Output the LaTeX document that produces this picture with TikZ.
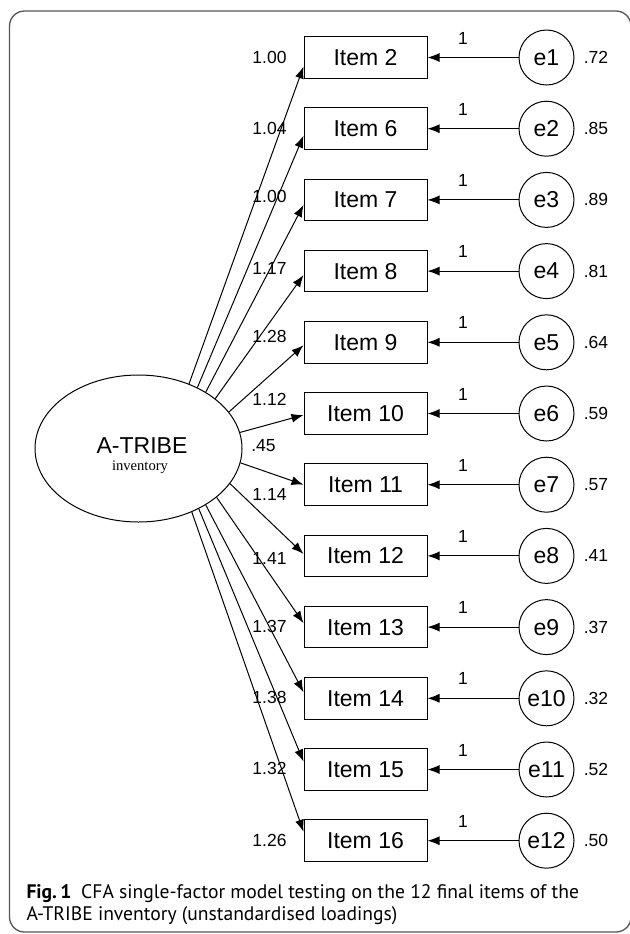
\documentclass[tikz,border=0pt]{standalone}
\usepackage{fontspec}
\setmainfont{Liberation Sans}
\newfontfamily\timesfont{Liberation Serif}
\newfontfamily\capfont{PT Sans}
\usetikzlibrary{arrows.meta, shapes.geometric, calc, math}
\definecolor{framegray}{RGB}{85,85,85}

\tikzset{
  itembox/.style={draw, minimum width=61.5pt, minimum height=20.75pt, inner sep=0pt, font=\fontsize{11.5}{13}\selectfont},
  errcirc/.style={draw, circle, minimum size=27.5pt, inner sep=0pt, font=\fontsize{11.5}{13}\selectfont},
  lbl/.style={inner sep=0pt, font=\fontsize{8.75}{10}\selectfont},
  captxt/.style={inner sep=0pt, anchor=base west, font=\capfont\fontsize{9.8}{11}\selectfont}
}

\begin{document}
\begin{tikzpicture}[x=0.5pt, y=-0.5pt, line width=0.5pt, >={Latex[length=6pt,width=4.5pt]}]
\tikzmath{
\dy=71.2;
\yo=57.5;
}
\useasboundingbox (0,0) rectangle (630,934);
\draw[line width=0.65pt, color=framegray, rounded corners=7.5pt] (9.5,11) rectangle (631,932);

% latent factor
\node[ellipse, draw, minimum width=103.5pt, minimum height=73.5pt, inner sep=0pt] (factor) at (138.5,448.5) {};
\node[inner sep=0pt, font=\fontsize{11.5}{13}\selectfont] (fname) at (142,445.5) {A-TRIBE};
\node[inner sep=0pt, anchor=base, font=\timesfont\fontsize{7.3}{8}\selectfont] (fsub) at (140,470) {inventory};
\node[lbl] (fvar) at (263.5,446) {.45};

% items, errors and loadings
\foreach \k/\item/\load/\ly/\tip/\ang/\var in {
  0/2/1.00/0/9/52/.72, 1/6/1.04/0/7/46/.85, 2/7/1.00/-3/5/40/.89,
  3/8/1.17/-3/4/33/.81, 4/9/1.28/-6/3/22/.64, 5/10/1.12/-14/1.5/9/.59,
  6/11/1.14/10/0/-8/.57, 7/12/1.41/3/-2/-21/.41, 8/13/1.37/-1/-4/-32/.37,
  9/14/1.38/-1/-6/-40/.32, 10/15/1.32/-1/-8/-45/.52, 11/16/1.26/0/-9/-50/.50}
{
  \pgfmathtruncatemacro{\en}{\k+1}
  \node[itembox] (item\k) at (365.5,\yo+\k*\dy) {Item \item};
  \node[errcirc] (e\k) at (546.5,\yo+\k*\dy) {e\en};
  \node[lbl] (one\k) at (463,\yo+\k*\dy-19.5) {1};
  \node[lbl] (v\k) at (596,\yo+\k*\dy) {\var};
  \node[lbl, anchor=east] (l\k) at (287,\yo+\k*\dy+\ly) {\load};
  \draw[->] (e\k.west) -- (item\k.east);
  \draw[->] (factor.\ang) -- ($(item\k.west)+(0,\tip)$);
}

% caption
\node[captxt] (cap1) at (26,898) {\textbf{Fig.\,1}\enspace CFA single-factor model testing on the 12 final items of the};
\node[captxt] (cap2) at (26,920) {A-TRIBE inventory (unstandardised loadings)};
\end{tikzpicture}
\end{document}
